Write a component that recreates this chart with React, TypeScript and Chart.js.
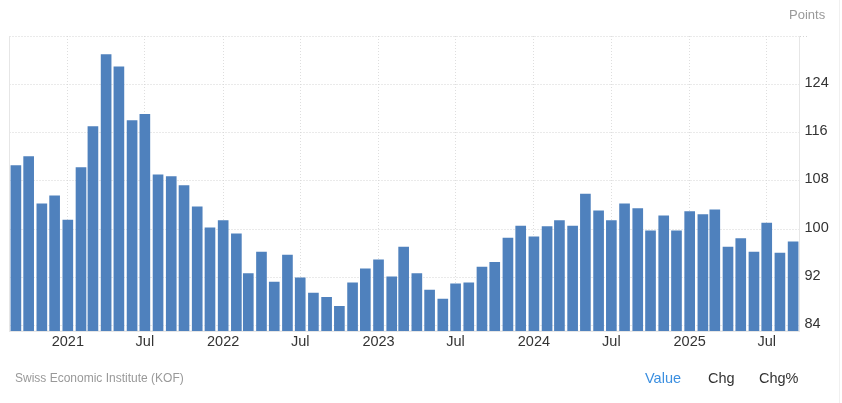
import React, { useEffect, useRef } from "react";
import { Chart, registerables } from "chart.js";

Chart.register(...registerables);

const months = [
  "2020-09","2020-10","2020-11","2020-12",
  "2021-01","2021-02","2021-03","2021-04","2021-05","2021-06","2021-07","2021-08","2021-09","2021-10","2021-11","2021-12",
  "2022-01","2022-02","2022-03","2022-04","2022-05","2022-06","2022-07","2022-08","2022-09","2022-10","2022-11","2022-12",
  "2023-01","2023-02","2023-03","2023-04","2023-05","2023-06","2023-07","2023-08","2023-09","2023-10","2023-11","2023-12",
  "2024-01","2024-02","2024-03","2024-04","2024-05","2024-06","2024-07","2024-08","2024-09","2024-10","2024-11","2024-12",
  "2025-01","2025-02","2025-03","2025-04","2025-05","2025-06","2025-07","2025-08","2025-09",
];
const values = [
  110.5,112.0,104.2,105.5,
  101.5,110.2,117.0,128.9,126.9,118.0,119.0,109.0,108.7,107.2,103.7,100.2,
  101.4,99.2,92.6,96.2,91.2,95.7,91.9,89.4,88.7,87.2,91.1,93.4,
  94.9,92.1,97.0,92.6,89.9,88.4,90.9,91.1,93.7,94.5,98.5,100.5,
  98.7,100.4,101.4,100.5,105.8,103.0,101.4,104.2,103.4,99.7,102.2,99.7,
  102.9,102.4,103.2,97.0,98.4,96.2,101.0,96.0,97.9,
];
const xTickMonths = ["2021-01","2021-07","2022-01","2022-07","2023-01","2023-07","2024-01","2024-07","2025-01","2025-07"];
const xTickLabels = ["2021","Jul","2022","Jul","2023","Jul","2024","Jul","2025","Jul"];
const yTicks = [84, 92, 100, 108, 116, 124, 132];
const yTickLabels = ["84", "92", "100", "108", "116", "124", ""];
const unitLabel = "Points";
const sourceLabel = "Swiss Economic Institute (KOF)";
const tabs = ["Value", "Chg", "Chg%"];

const DAY = 86400000;
const toDay = (m: string) => Date.parse(m + "-01T00:00:00Z") / DAY;
const FONT = '"Liberation Sans", Arial, sans-serif';
const AXIS = "#e6e6e6";
const GRID = "#d4d4d4";

export default function App() {
  const ref = useRef<HTMLCanvasElement>(null);
  useEffect(() => {
    const xTickDays = xTickMonths.map(toDay);
    const chart = new Chart(ref.current!, {
      type: "bar",
      data: {
        datasets: [
          {
            data: months.map((m, i) => ({ x: toDay(m), y: values[i] })),
            backgroundColor: "#4f81bd",
            barThickness: 10,
          },
        ],
      },
      options: {
        responsive: false,
        animation: false,
        devicePixelRatio: 1,
        layout: { padding: { left: 9.5, top: 36, right: 0, bottom: 0 } },
        plugins: { legend: { display: false }, tooltip: { enabled: false } },
        scales: {
          x: {
            type: "linear",
            offset: false,
            min: toDay(months[0]) - 15,
            max: toDay(months[months.length - 1]) + 15,
            afterFit: (s: any) => { s.height = 72; },
            afterBuildTicks: (s: any) => { s.ticks = xTickDays.map((value) => ({ value })); },
            border: { display: true, color: AXIS, dash: [1, 2] },
            grid: { offset: false, color: "#dedede", lineWidth: 1, drawTicks: false },
            ticks: {
              autoSkip: false,
              maxRotation: 0,
              padding: 2,
              color: "#333333",
              font: { family: FONT, size: 14.5 },
              callback: (v: any) => xTickLabels[xTickDays.indexOf(Number(v))] ?? "",
            },
          },
          y: {
            position: "right",
            min: 83.1,
            max: 132,
            afterFit: (s: any) => { s.width = 42.5; },
            afterBuildTicks: (s: any) => { s.ticks = yTicks.map((value) => ({ value })); },
            border: { display: true, color: AXIS, dash: [1, 2] },
            grid: {
              color: GRID,
              lineWidth: 1,
              drawTicks: true,
              tickLength: 8,
              tickBorderDash: [1, 2],
              tickColor: (ctx: any) => (ctx.tick && ctx.tick.value === 132 ? GRID : "rgba(0,0,0,0)"),
            },
            ticks: {
              padding: -3,
              labelOffset: -1.5,
              color: "#333333",
              font: { family: FONT, size: 14.5 },
              callback: (v: any) => yTickLabels[yTicks.indexOf(Number(v))] ?? "",
            },
          },
        },
      },
      plugins: [
        {
          id: "frameLines",
          beforeDatasetsDraw(c: any) {
            const { left, right, top, bottom } = c.chartArea;
            const g = c.ctx;
            g.save();
            g.strokeStyle = AXIS;
            g.lineWidth = 1;
            g.setLineDash([]);
            g.beginPath();
            g.moveTo(left, top);
            g.lineTo(left, bottom);
            g.moveTo(right, top);
            g.lineTo(right, bottom);
            g.moveTo(left, bottom);
            g.lineTo(right, bottom);
            g.stroke();
            g.restore();
          },
        },
      ],
    } as any);
    return () => chart.destroy();
  }, []);
  const text = (left: number, top: number, color: string, size: number, s: string) => (
    <div
      key={s}
      style={{ position: "absolute", left, top, color, fontFamily: FONT, fontSize: size, lineHeight: "16px", whiteSpace: "nowrap" }}
    >
      {s}
    </div>
  );
  return (
    <div style={{ position: "absolute", left: 0, top: 0, width: 842, height: 403, background: "#fff", overflow: "hidden" }}>
      <canvas ref={ref} width={842} height={403} style={{ position: "absolute", left: 0, top: 0, width: 842, height: 403 }} />
      <div style={{ position: "absolute", left: 839, top: 0, width: 1, height: 403, background: "#f0f0f0" }} />
      {text(789, 7, "#999999", 13, unitLabel)}
      {text(15, 370, "#999999", 12, sourceLabel)}
      {text(645, 370, "#3b8fe0", 14.5, tabs[0])}
      {text(708, 370, "#333333", 14.5, tabs[1])}
      {text(759, 370, "#333333", 14.5, tabs[2])}
    </div>
  );
}
